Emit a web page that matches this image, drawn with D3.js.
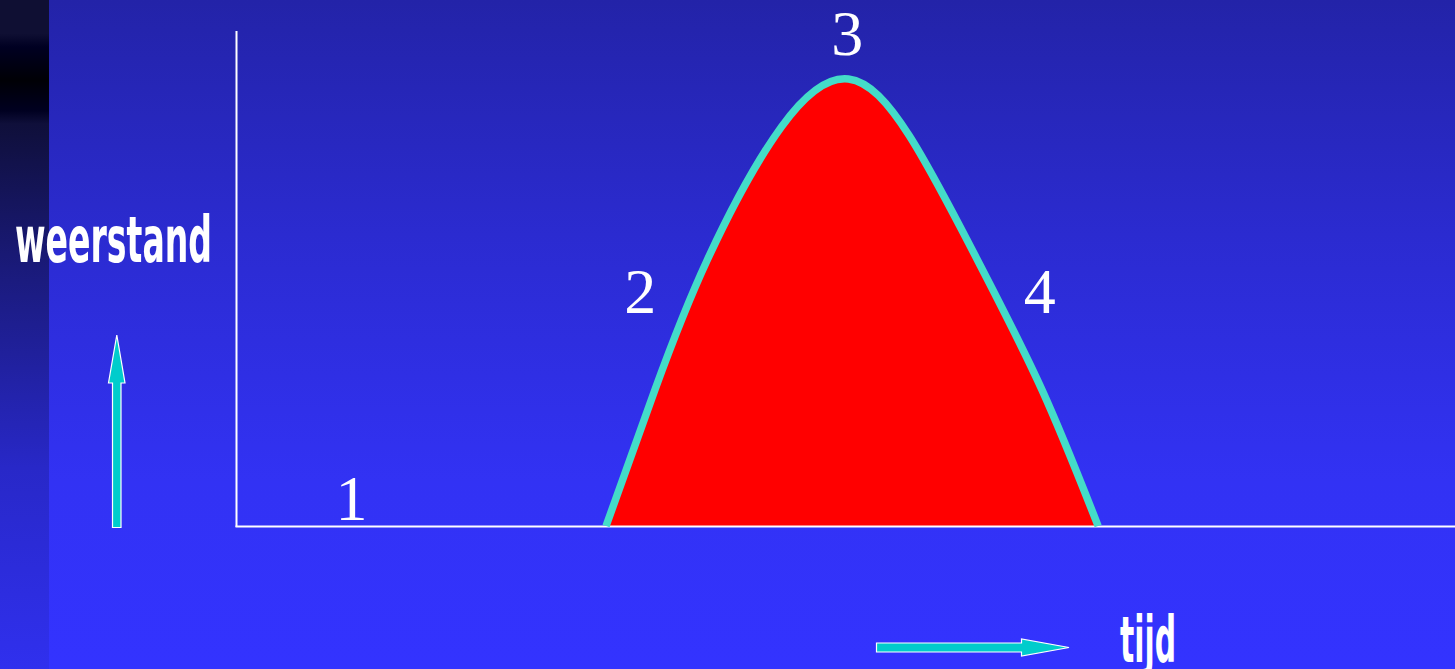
<!DOCTYPE html>
<html>
<head>
<meta charset="utf-8">
<title>weerstand / tijd</title>
<style>
  body { margin: 0; padding: 0; overflow: hidden; }
  .phase { font-family: "Liberation Serif", "Times New Roman", serif; fill: #fff; }
  .axislabel { font-family: Impact, "Liberation Sans Narrow", "DejaVu Sans Condensed", sans-serif; font-weight: bold; fill: #fff; }
</style>
</head>
<body>
<div id="my_dataviz"></div>
<script src="https://cdn.jsdelivr.net/npm/d3@7"></script>
<script>
// time (0-100) and resistance (0-100)
var curveTime       = [30.3, 34.3, 38.6, 44.7, 50.2, 55.2, 60.8, 66.1, 70.7];
var curveResistance = [0,    27.5, 53.8, 80.8, 90.5, 79.0, 53.8, 27.5, 0];

// phase numbers and where they sit (time, resistance)
var phaseNames      = ["1", "2", "3", "4"];
var phaseTime       = [9.4, 33.1, 50.1, 65.9];
var phaseResistance = [1.2, 43.1, 95.3, 43.1];

var axisLabels = ["weerstand", "tijd"];

var width = 1455, height = 669;

var svg = d3.select("#my_dataviz")
  .append("svg")
    .attr("width", width)
    .attr("height", height);

var defs = svg.append("defs");

// background gradients
var mainGrad = defs.append("linearGradient")
    .attr("id", "mainGrad").attr("x1", 0).attr("y1", 0).attr("x2", 0).attr("y2", 1);
[[0, "#2323a8"], [0.35, "#2b2bd0"], [0.72, "#3232f4"], [1, "#3333ff"]].forEach(function(s) {
  mainGrad.append("stop").attr("offset", s[0]).attr("stop-color", s[1]);
});

var sideGrad = defs.append("linearGradient")
    .attr("id", "sideGrad").attr("x1", 0).attr("y1", 0).attr("x2", 0).attr("y2", 1);
[[0, "#0f0f33"], [0.05, "#0f0f33"], [0.07, "#000022"], [0.12, "#000005"], [0.165, "#000020"],
 [0.185, "#0f0f3a"], [0.4, "#1a1a7a"], [0.7, "#2828c8"], [1, "#3030ee"]].forEach(function(s) {
  sideGrad.append("stop").attr("offset", s[0]).attr("stop-color", s[1]);
});

svg.append("rect").attr("width", width).attr("height", height).attr("fill", "url(#mainGrad)");
svg.append("rect").attr("width", 49).attr("height", height).attr("fill", "url(#sideGrad)");

// scales
var x = d3.scaleLinear().domain([0, 100]).range([237, 1455]);
var y = d3.scaleLinear().domain([0, 100]).range([526, 32]);

var pts = curveTime.map(function(t, i) { return [t, curveResistance[i]]; });

// red area under the curve
var area = d3.area()
  .x(function(d) { return x(d[0]); })
  .y0(y(0))
  .y1(function(d) { return y(d[1]); })
  .curve(d3.curveNatural);

svg.append("path")
  .datum(pts)
  .attr("d", area)
  .attr("fill", "#ff0000");

// axes (plain lines, no ticks)
svg.append("line")
  .attr("x1", x(0) - 0.5).attr("x2", x(0) - 0.5)
  .attr("y1", 31).attr("y2", y(0) + 1)
  .attr("stroke", "#fff").attr("stroke-width", 2);
svg.append("line")
  .attr("x1", x(0) - 1.5).attr("x2", x(100))
  .attr("y1", y(0) + 0.5).attr("y2", y(0) + 0.5)
  .attr("stroke", "#fff").attr("stroke-width", 2);

// turquoise outline
var line = d3.line()
  .x(function(d) { return x(d[0]); })
  .y(function(d) { return y(d[1]); })
  .curve(d3.curveNatural);

svg.append("path")
  .datum(pts)
  .attr("d", line)
  .attr("fill", "none")
  .attr("stroke", "#44dcc8")
  .attr("stroke-width", 7.5);

// phase numbers
svg.selectAll(".phase")
  .data(phaseNames)
  .enter()
  .append("text")
    .attr("class", "phase")
    .attr("x", function(d, i) { return x(phaseTime[i]); })
    .attr("y", function(d, i) { return y(phaseResistance[i]); })
    .attr("text-anchor", "middle")
    .style("font-size", "64px")
    .text(function(d) { return d; });

// axis titles
svg.append("text")
  .attr("class", "axislabel")
  .attr("x", 15).attr("y", 262)
  .attr("textLength", 197).attr("lengthAdjust", "spacingAndGlyphs")
  .style("font-size", "64px")
  .text(axisLabels[0]);

svg.append("text")
  .attr("class", "axislabel")
  .attr("x", 1120).attr("y", 662)
  .attr("textLength", 56).attr("lengthAdjust", "spacingAndGlyphs")
  .style("font-size", "64px")
  .text(axisLabels[1]);

// arrows
var arrowStyle = function(sel) {
  sel.attr("fill", "#00cccc").attr("stroke", "#fff").attr("stroke-width", 1.2);
};

svg.append("path")
  .attr("d", "M112.5,527.5 L112.5,383 L108.5,383 L116.8,335 L125,383 L121,383 L121,527.5 Z")
  .call(arrowStyle);

svg.append("path")
  .attr("d", "M876.5,643 L1021.5,643 L1021.5,639 L1069,647.5 L1021.5,656 L1021.5,652 L876.5,652 Z")
  .call(arrowStyle);
</script>
</body>
</html>
